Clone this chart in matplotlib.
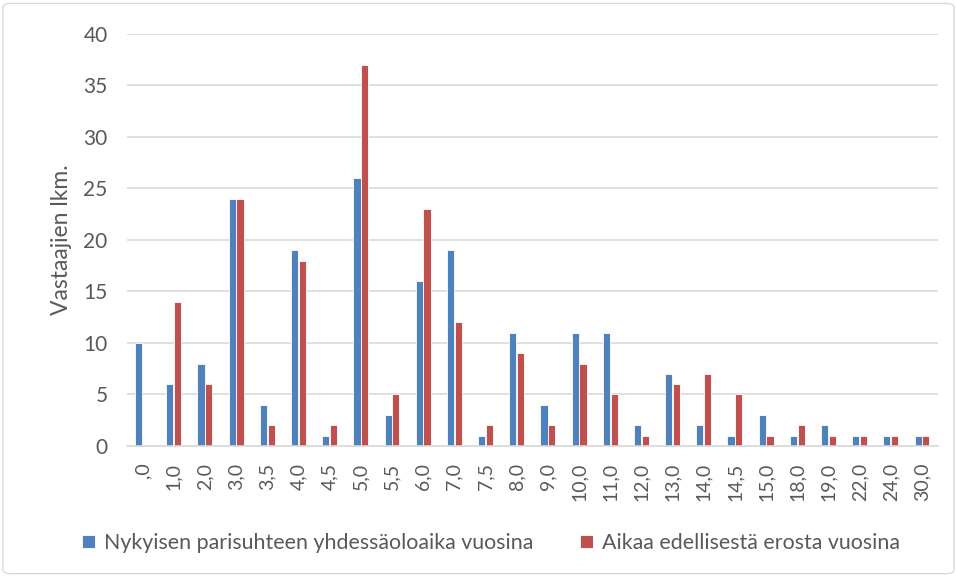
import numpy as np
import matplotlib.pyplot as plt
from matplotlib.patches import FancyBboxPatch

plt.rcParams['font.family'] = ['Lato', 'DejaVu Sans']

categories = [',0', '1,0', '2,0', '3,0', '3,5', '4,0', '4,5', '5,0', '5,5', '6,0',
              '7,0', '7,5', '8,0', '9,0', '10,0', '11,0', '12,0', '13,0', '14,0',
              '14,5', '15,0', '18,0', '19,0', '22,0', '24,0', '30,0']
yhdessaolo = [10, 6, 8, 24, 4, 19, 1, 26, 3, 16, 19, 1, 11, 4, 11, 11, 2, 7, 2, 1, 3, 1, 2, 1, 1, 1]
erosta = [0, 14, 6, 24, 2, 18, 2, 37, 5, 23, 12, 2, 9, 2, 8, 5, 1, 6, 7, 5, 1, 2, 1, 1, 1, 1]

fig = plt.figure(figsize=(9.57, 5.76), dpi=100)
ax = fig.add_axes([0.1327, 0.2257, 0.847, 0.7153])

x = np.arange(len(categories))
w = 0.23
ax.bar(x - w / 2 - 0.01, yhdessaolo, w, color='#4F81BD', edgecolor='white', linewidth=0.6,
       label='Nykyisen parisuhteen yhdessäoloaika vuosina')
ax.bar(x + w / 2 + 0.01, erosta, w, color='#C0504D', edgecolor='white', linewidth=0.6,
       label='Aikaa edellisestä erosta vuosina')

txt = '#595959'
ax.set_xlim(-0.5, len(categories) - 0.5)
ax.set_ylim(0, 40)
ax.set_yticks(range(0, 41, 5))
ax.set_xticks(x)
ax.set_xticklabels(categories, rotation=90, fontsize=14, color=txt)
ax.tick_params(axis='y', labelsize=15, colors=txt, length=0, pad=14)
ax.tick_params(axis='x', length=0, pad=12)
ax.grid(axis='y', color='#d9d9d9', linewidth=1.2)
ax.set_axisbelow(True)
for s in ['top', 'right', 'left']:
    ax.spines[s].set_visible(False)
ax.spines['bottom'].set_color('#d9d9d9')
ax.spines['bottom'].set_linewidth(1.2)
ax.set_ylabel('Vastaajien lkm.', fontsize=16.5, color=txt, labelpad=8)

fig.legend(loc='center', bbox_to_anchor=(0.513, 0.057), ncol=2, frameon=False,
           fontsize=15.4, handlelength=0.6, handleheight=0.6, handletextpad=0.4,
           columnspacing=2.2, labelcolor=txt)

fig.patches.append(FancyBboxPatch((0.003, 0.004), 0.994, 0.99, boxstyle='round,pad=0,rounding_size=0.008',
                                  transform=fig.transFigure, fill=False, edgecolor='#d9d9d9', linewidth=1))

fig.savefig('out.png', dpi=100)
